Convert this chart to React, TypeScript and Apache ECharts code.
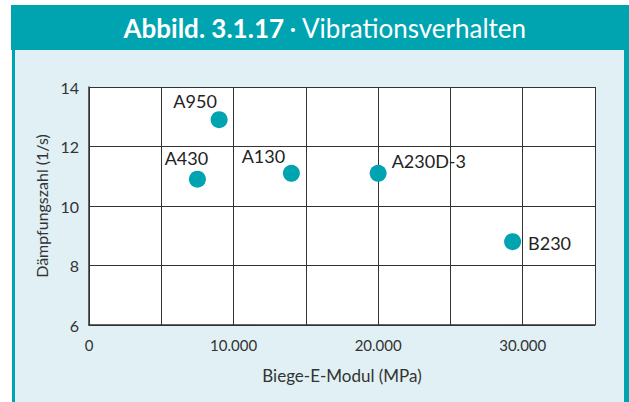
import React, { useEffect, useRef } from "react";
import * as echarts from "echarts";

const names = ["A950", "A430", "A130", "A230D-3", "B230"];
const modulus = [9000, 7500, 14000, 20000, 29300];
const damping = [12.9, 10.9, 11.1, 11.1, 8.8];
const labelPos = ["top", "top", "top", "right", "right"];
const labelOffset = [[-24, 4], [-11, 1], [-28, 5], [0, -12], [2, 1]];

const TEAL = "#00a4b1";
const LIGHT = "#e0f0f4";
const FONT = "Lato, sans-serif";

export default function App() {
  const ref = useRef<HTMLDivElement>(null);
  useEffect(() => {
    const chart = echarts.init(ref.current!, null, { renderer: "svg" });
    const data = names.map((n, i) => ({
      name: n,
      value: [modulus[i], damping[i]],
      label: {
        show: true,
        formatter: n,
        position: labelPos[i] as any,
        offset: labelOffset[i],
      },
    }));
    chart.setOption({
      animation: false,
      backgroundColor: "#ffffff",
      graphic: [
        { type: "rect", z: -10, shape: { x: 11, y: 5, width: 618, height: 45 }, style: { fill: TEAL } },
        { type: "rect", z: -10, shape: { x: 15, y: 50, width: 609, height: 352 }, style: { fill: LIGHT } },
        { type: "rect", z: -10, shape: { x: 12, y: 50, width: 3, height: 352 }, style: { fill: TEAL } },
        { type: "rect", z: -10, shape: { x: 624, y: 50, width: 5, height: 352 }, style: { fill: TEAL } },
      ],
      title: {
        text: "{b|Abbild. 3.1.17} {n|· Vibrationsverhalten}",
        left: 320,
        textAlign: "center",
        top: 10,
        textStyle: {
          rich: {
            b: { fontFamily: FONT, fontWeight: "bold", fontSize: 26, color: "#fff" },
            n: { fontFamily: FONT, fontWeight: "normal", fontSize: 26, color: "#fff" },
          },
        },
      },
      grid: {
        left: 89,
        top: 87,
        right: 34,
        bottom: 77,
        show: true,
        backgroundColor: "#ffffff",
        borderWidth: 0,
      },
      xAxis: {
        type: "value",
        min: 0,
        max: 35000,
        interval: 5000,
        name: "Biege-E-Modul (MPa)",
        nameLocation: "middle",
        nameGap: 42,
        nameTextStyle: { fontFamily: FONT, fontSize: 17, color: "#333" },
        axisLine: { show: true, lineStyle: { color: "#333", width: 1.5 } },
        axisTick: { show: false },
        splitLine: { show: true, lineStyle: { color: "#333", width: 1 } },
        axisLabel: {
          fontFamily: FONT,
          fontSize: 15,
          color: "#333",
          margin: 12,
          formatter: (v: number) =>
            v % 10000 === 0 && v < 35000 ? (v === 0 ? "0" : v / 1000 + ".000") : "",
        },
      },
      yAxis: {
        type: "value",
        min: 6,
        max: 14,
        interval: 2,
        name: "Dämpfungszahl (1/s)",
        nameLocation: "middle",
        nameGap: 40,
        nameTextStyle: { fontFamily: FONT, fontSize: 16, color: "#333" },
        axisLine: { show: true, lineStyle: { color: "#333", width: 1.5 } },
        axisTick: { show: false },
        splitLine: { show: true, lineStyle: { color: "#333", width: 1 } },
        axisLabel: { fontFamily: FONT, fontSize: 16, color: "#333", margin: 10 },
      },
      series: [
        {
          type: "scatter",
          symbolSize: 17,
          itemStyle: { color: TEAL, opacity: 1 },
          label: { fontFamily: FONT, fontSize: 18, color: "#222" },
          data,
        },
      ],
    });
    return () => chart.dispose();
  }, []);
  return (
    <div
      ref={ref}
      style={{ position: "fixed", left: 0, top: 0, width: 629, height: 402 }}
    />
  );
}
